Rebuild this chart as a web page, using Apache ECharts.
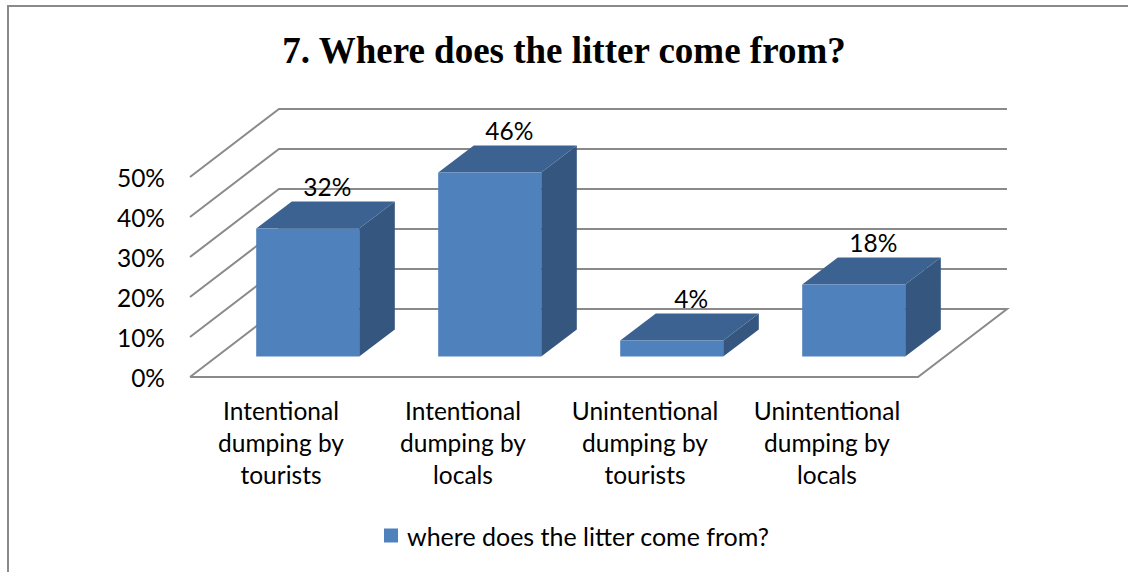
<!DOCTYPE html>
<html>
<head>
<meta charset="utf-8">
<script src="https://cdn.jsdelivr.net/npm/echarts@6/dist/echarts.min.js"></script>
<style>
html,body{margin:0;padding:0;background:#fff;}
#chart{width:1128px;height:572px;}
</style>
</head>
<body>
<div id="chart"></div>
<script>
// ---- data ----
var titleText = '7. Where does the litter come from?';
var seriesName = 'where does the litter come from?';
var categories = [
  'Intentional\ndumping by\ntourists',
  'Intentional\ndumping by\nlocals',
  'Unintentional\ndumping by\ntourists',
  'Unintentional\ndumping by\nlocals'
];
var values = [32, 46, 4, 18];
var yTicks = [0, 10, 20, 30, 40, 50];

// ---- 3D look (pixel offsets of depth) ----
var DX = 89, DY = -68;          // full floor depth
var BAR_START = 0.3, BAR_DEPTH = 0.4, BAR_WIDTH = 0.566;
var FONT = 'Lato, "Open Sans", sans-serif';
var FONT_SIZE = 24.5;
var GRID_COLOR = '#8a8a8a';

var chart = echarts.init(document.getElementById('chart'), null, {renderer: 'svg'});

function renderWall(params, api) {
  var v = api.value(1);
  var c = api.coord([0, v]);
  var band = api.size([1, 0])[0];
  var lx = c[0] - band / 2, y = c[1];
  var rx = lx + band * categories.length;
  var pts;
  if (v === yTicks[0]) {
    pts = [[lx, y], [rx, y], [rx + DX, y + DY], [lx + DX, y + DY], [lx, y]];
  } else {
    pts = [[lx, y], [lx + DX, y + DY], [rx + DX, y + DY]];
  }
  return {
    type: 'polyline',
    shape: {points: pts},
    style: {stroke: GRID_COLOR, lineWidth: 2, fill: null},
    silent: true
  };
}

function renderBar(params, api) {
  var i = api.value(0), v = api.value(1);
  var c0 = api.coord([i, 0]);
  var c1 = api.coord([i, v]);
  var band = api.size([1, 0])[0];
  var bw = band * BAR_WIDTH;
  var sx = DX * BAR_START, sy = DY * BAR_START;
  var bdx = DX * BAR_DEPTH, bdy = DY * BAR_DEPTH;
  var fl = c0[0] - bw / 2 + sx, fr = fl + bw;
  var top = c1[1] + sy, bot = c0[1] + sy;
  return {
    type: 'group',
    children: [
      {type: 'polygon', shape: {points: [[fr, top], [fr + bdx, top + bdy], [fr + bdx, bot + bdy], [fr, bot]]},
        style: {fill: '#34567f'}},
      {type: 'polygon', shape: {points: [[fl, top], [fr, top], [fr + bdx, top + bdy], [fl + bdx, top + bdy]]},
        style: {fill: '#3c6291'}},
      {type: 'rect', shape: {x: fl, y: top, width: bw, height: bot - top},
        style: {fill: '#4f81bd'}},
      {type: 'text', x: (fl + fr) / 2 + bdx * 0.55, y: top + bdy - 15,
        style: {text: v + '%', fill: '#000', font: FONT_SIZE + 'px ' + FONT, align: 'center', verticalAlign: 'middle'}}
    ]
  };
}

chart.setOption({
  animation: false,
  backgroundColor: '#fff',
  graphic: [{
    type: 'rect', silent: true, z: -10,
    shape: {x: 8, y: 6, width: 1300, height: 800},
    style: {fill: null, stroke: '#8a8a8a', lineWidth: 2}
  }],
  title: {
    text: titleText, left: 'center', top: 27,
    textStyle: {fontFamily: '"Liberation Serif", "Times New Roman", serif', fontWeight: 'bold', fontSize: 37, color: '#000'}
  },
  legend: {
    data: [seriesName], left: 379, top: 518,
    icon: 'rect', itemWidth: 14, itemHeight: 14, itemGap: 6,
    textStyle: {fontFamily: FONT, fontSize: 25, color: '#000', padding: [0, 0, 0, 4]}
  },
  grid: {left: 190, right: 210, top: 177, bottom: 195},
  xAxis: {
    type: 'category', data: categories,
    axisLine: {show: false}, axisTick: {show: false},
    axisLabel: {color: '#000', fontFamily: FONT, fontSize: FONT_SIZE, lineHeight: 32, margin: 17, interval: 0}
  },
  yAxis: {
    type: 'value', min: 0, max: 50, interval: 10,
    axisLine: {show: false}, axisTick: {show: false}, splitLine: {show: false},
    axisLabel: {formatter: '{value}%', color: '#000', fontFamily: FONT, fontSize: FONT_SIZE, margin: 25}
  },
  series: [
    {type: 'custom', name: 'walls', renderItem: renderWall, silent: true, z: 1,
      data: yTicks.map(function (t) { return [0, t]; })},
    {type: 'custom', name: seriesName, renderItem: renderBar, z: 2,
      itemStyle: {color: '#4f81bd'},
      data: values.map(function (v, i) { return [i, v]; })}
  ]
});
</script>
</body>
</html>
